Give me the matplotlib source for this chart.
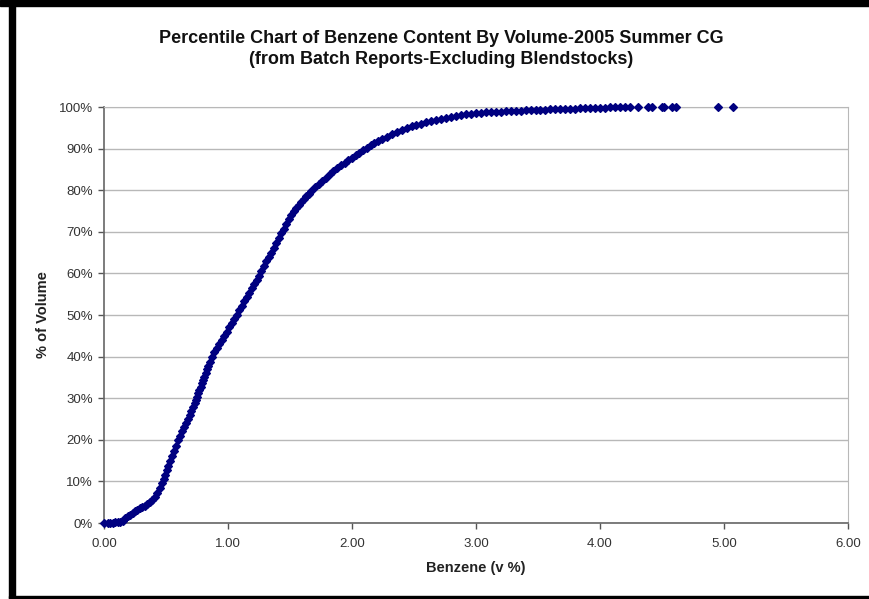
import matplotlib
matplotlib.use("Agg")
import matplotlib.pyplot as plt
from matplotlib.patches import Rectangle
from matplotlib.ticker import FuncFormatter

plt.rcParams["font.family"] = ["Liberation Sans", "DejaVu Sans"]

# benzene content (v %) of each batch
benzene = [
    0.00, 0.03, 0.05, 0.07, 0.09, 0.11, 0.13,
    0.15, 0.17, 0.19, 0.21, 0.23, 0.25,
    0.27, 0.29, 0.31, 0.33, 0.35, 0.37,
    0.39, 0.41, 0.43, 0.45,
    0.465, 0.48, 0.49, 0.505,
    0.52, 0.535, 0.55, 0.565, 0.58, 0.60,
    0.615, 0.63, 0.645, 0.66, 0.675, 0.69, 0.705, 0.72,
    0.73, 0.74, 0.75, 0.76, 0.77, 0.78, 0.79, 0.80,
    0.81, 0.82, 0.83, 0.84, 0.855, 0.87,
    0.89, 0.91, 0.93, 0.95, 0.97, 0.99, 1.01, 1.03, 1.05, 1.07,
    1.09, 1.11, 1.13, 1.15, 1.17, 1.19, 1.21, 1.23, 1.25, 1.27,
    1.29, 1.31, 1.33, 1.35, 1.37, 1.39, 1.41, 1.43, 1.45,
    1.47, 1.49, 1.51, 1.53, 1.55, 1.57, 1.59, 1.61, 1.63, 1.65, 1.67,
    1.70, 1.73, 1.76, 1.79, 1.82, 1.85, 1.88, 1.91, 1.94, 1.97,
    2.00, 2.03, 2.06, 2.09, 2.12, 2.15, 2.18, 2.21, 2.24,
    2.28, 2.32, 2.36, 2.40, 2.44, 2.48, 2.52, 2.56, 2.60, 2.64, 2.68, 2.72,
    2.76, 2.80, 2.84, 2.88, 2.92, 2.96, 3.00, 3.04,
    3.08, 3.12, 3.16, 3.20, 3.24, 3.28, 3.32, 3.36, 3.40, 3.44, 3.48, 3.52, 3.56,
    3.60, 3.64, 3.68, 3.72, 3.76, 3.80, 3.84, 3.88, 3.92, 3.96, 4.00, 4.04,
    4.08, 4.12, 4.16, 4.20, 4.24,
    4.31, 4.39, 4.42, 4.50, 4.52, 4.58, 4.61, 4.95, 5.07,
]

# cumulative share of volume (%)
pct_volume = [
    0.0, 0.0, 0.1, 0.1, 0.2, 0.2, 0.3,
    0.6, 1.1, 1.6, 2.0, 2.5, 2.9,
    3.2, 3.5, 3.8, 4.2, 4.6, 5.0,
    5.6, 6.3, 7.3, 8.5,
    9.6, 10.6, 11.6, 12.7,
    13.8, 15.0, 16.2, 17.4, 18.6, 19.9,
    20.9, 22.0, 23.0, 24.0, 25.0, 26.0, 27.0, 28.0,
    28.8, 29.6, 30.4, 31.2, 32.0, 32.8, 33.6, 34.4,
    35.2, 36.0, 36.9, 37.7, 38.8, 40.0,
    41.0, 42.0, 43.0, 44.0, 45.0, 46.0, 47.0, 48.0, 49.0, 50.0,
    51.1, 52.2, 53.3, 54.4, 55.4, 56.4, 57.4, 58.4, 59.4, 60.6,
    61.8, 62.9, 63.9, 65.0, 66.2, 67.4, 68.6, 69.6, 70.6,
    71.8, 73.0, 74.0, 74.9, 75.7, 76.5, 77.2, 77.9, 78.5, 79.2, 79.9,
    80.8, 81.6, 82.3, 83.0, 83.8, 84.6, 85.3, 86.0, 86.6, 87.2,
    87.8, 88.4, 89.0, 89.6, 90.2, 90.8, 91.3, 91.8, 92.2,
    92.8, 93.4, 94.0, 94.5, 95.0, 95.4, 95.7, 96.0, 96.3, 96.6, 96.8, 97.0,
    97.3, 97.5, 97.8, 98.0, 98.2, 98.4, 98.5, 98.6,
    98.7, 98.8, 98.9, 98.9, 99.0, 99.0, 99.1, 99.1, 99.2, 99.2, 99.3, 99.3, 99.3,
    99.4, 99.4, 99.5, 99.5, 99.6, 99.6, 99.7, 99.7, 99.7, 99.8, 99.8, 99.8,
    99.9, 99.9, 99.9, 99.9, 99.95,
    100.0, 100.0, 100.0, 100.0, 100.0, 100.0, 100.0, 100.0, 100.0,
]

x_ticks = [0, 1, 2, 3, 4, 5, 6]
y_ticks = [0, 10, 20, 30, 40, 50, 60, 70, 80, 90, 100]

fig = plt.figure(figsize=(8.7, 5.99), dpi=100)
ax = fig.add_axes([104 / 870, 1 - 523 / 599, 744 / 870, 416 / 599])

ax.plot(benzene, pct_volume, linestyle="none", marker="D", markersize=3.6,
        color="#000080", markeredgewidth=0.9, clip_on=False, zorder=3)

ax.set_xlim(0, 6)
ax.set_ylim(0, 100)
ax.set_xticks(x_ticks)
ax.set_yticks(y_ticks)
ax.xaxis.set_major_formatter(FuncFormatter(lambda v, p: f"{v:.2f}"))
ax.yaxis.set_major_formatter(FuncFormatter(lambda v, p: f"{v:.0f}%"))
ax.tick_params(direction="out", length=4, width=1, colors="#555555",
               labelcolor="#333333", labelsize=9.5, pad=4)
ax.tick_params(axis="x", pad=7)

ax.yaxis.grid(True, color="#b8b8b8", linewidth=1)
ax.set_axisbelow(True)
for side in ["left", "bottom"]:
    ax.spines[side].set_color("#666666")
    ax.spines[side].set_linewidth(1.2)
ax.spines["right"].set_color("#b8b8b8")
ax.spines["top"].set_color("#b8b8b8")

ax.set_xlabel("Benzene (v %)", fontsize=10.5, fontweight="bold", color="#222222",
              labelpad=8)
ax.set_ylabel("% of Volume", fontsize=10.5, fontweight="bold", color="#222222",
              labelpad=6)

fig.text(441 / 870, 1 - 49 / 599,
         "Percentile Chart of Benzene Content By Volume-2005 Summer CG\n"
         "(from Batch Reports-Excluding Blendstocks)",
         ha="center", va="center", fontsize=13, fontweight="bold",
         linespacing=1.25, color="#111111")

# black frame around the chart sheet
fig.add_artist(Rectangle((0, 1 - 6 / 599), 1, 6 / 599, transform=fig.transFigure,
                         color="black", zorder=10))
fig.add_artist(Rectangle((9 / 870, 0), 6 / 870, 1, transform=fig.transFigure,
                         color="black", zorder=10))
fig.add_artist(Rectangle((9 / 870, 1.5 / 599), 1, 2 / 599, transform=fig.transFigure,
                         color="black", zorder=10))

fig.savefig("out.png", dpi=100)
